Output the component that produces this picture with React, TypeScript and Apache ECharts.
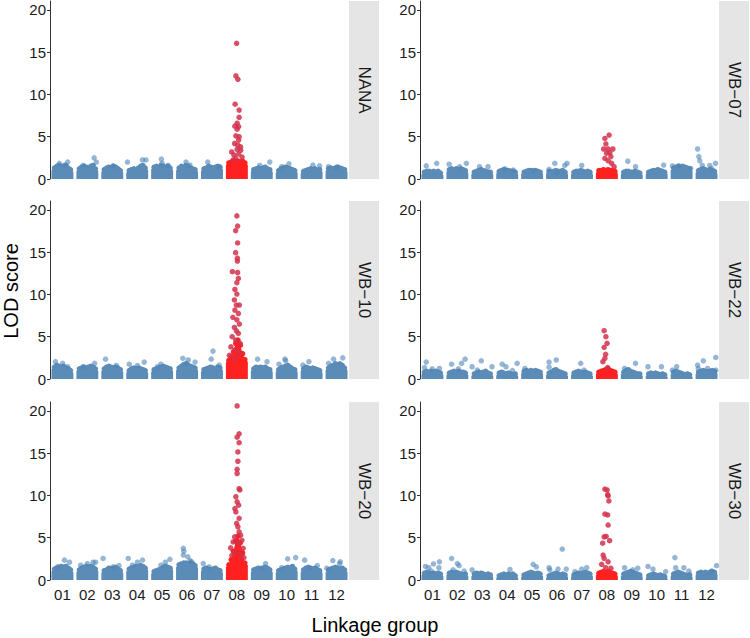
import React, { useEffect, useRef } from "react";
import * as echarts from "echarts";

const groups = ["01", "02", "03", "04", "05", "06", "07", "08", "09", "10", "11", "12"];
const panelNames = ["NANA", "WB−07", "WB−10", "WB−22", "WB−20", "WB−30"];
const yTicks = [0, 5, 10, 15, 20];
const peakGroupIndex = 7; // "08"

// Dense band top (envelope) per linkage group
const bandNANA = [
  [1.3, 1.5, 1.6, 1.4, 1.5, 1.6, 1.3, 1.1],
  [1.2, 1.4, 1.5, 1.4, 1.3, 1.5, 1.6, 1.2],
  [1.1, 1.3, 1.4, 1.3, 1.5, 1.4, 1.2, 1.0],
  [1.0, 1.1, 1.2, 1.1, 1.3, 1.5, 1.6, 1.3],
  [1.4, 1.5, 1.3, 1.6, 1.5, 1.4, 1.5, 1.3],
  [1.3, 1.5, 1.4, 1.6, 1.5, 1.3, 1.2, 1.1],
  [1.2, 1.3, 1.5, 1.4, 1.3, 1.4, 1.5, 1.4],
  [1.9, 2.0, 2.1, 2.0, 2.1, 2.0, 2.1, 1.9],
  [1.1, 1.2, 1.3, 1.2, 1.3, 1.4, 1.2, 1.1],
  [1.0, 1.2, 1.3, 1.4, 1.3, 1.2, 1.1, 1.0],
  [0.9, 1.0, 1.1, 1.2, 1.1, 1.2, 1.0, 1.1],
  [1.2, 1.3, 1.2, 1.3, 1.4, 1.3, 1.2, 1.1],
];
const bandWB07 = [
  [0.8, 0.9, 0.9, 0.8, 0.9, 0.8, 0.9, 0.7],
  [1.1, 1.2, 1.1, 1.2, 1.1, 1.2, 1.1, 1.0],
  [0.8, 0.9, 1.0, 1.1, 1.0, 0.9, 0.8, 0.8],
  [0.9, 1.0, 1.1, 1.0, 1.0, 0.9, 0.9, 0.8],
  [0.8, 0.9, 1.0, 1.0, 0.9, 1.0, 0.9, 0.8],
  [0.9, 0.8, 0.9, 1.0, 0.9, 0.9, 1.0, 0.8],
  [0.8, 0.9, 0.9, 1.0, 0.9, 0.8, 0.9, 0.8],
  [1.0, 1.0, 1.1, 1.0, 1.1, 1.0, 1.0, 0.9],
  [0.8, 0.9, 0.9, 0.8, 0.8, 0.9, 0.8, 0.7],
  [0.8, 0.9, 1.0, 1.0, 1.1, 1.0, 0.9, 0.8],
  [1.3, 1.4, 1.5, 1.4, 1.5, 1.4, 1.3, 1.2],
  [1.0, 1.1, 1.2, 1.1, 1.0, 1.1, 1.0, 0.9],
];
const bandWB10 = [
  [1.4, 1.6, 1.5, 1.4, 1.5, 1.3, 1.2, 1.0],
  [1.2, 1.3, 1.4, 1.3, 1.4, 1.5, 1.4, 1.2],
  [1.2, 1.4, 1.5, 1.4, 1.3, 1.4, 1.3, 1.1],
  [1.0, 1.2, 1.3, 1.2, 1.3, 1.2, 1.1, 1.0],
  [1.1, 1.2, 1.3, 1.4, 1.5, 1.4, 1.3, 1.2],
  [1.3, 1.5, 1.7, 1.8, 1.6, 1.5, 1.4, 1.3],
  [1.1, 1.2, 1.3, 1.4, 1.3, 1.2, 1.4, 1.3],
  [2.2, 2.6, 3.2, 4.2, 4.6, 4.0, 3.0, 2.3],
  [1.2, 1.4, 1.3, 1.4, 1.3, 1.4, 1.2, 1.1],
  [1.1, 1.3, 1.4, 1.5, 1.6, 1.4, 1.2, 1.1],
  [1.2, 1.4, 1.3, 1.2, 1.3, 1.2, 1.1, 1.0],
  [1.3, 1.5, 1.6, 1.8, 1.7, 1.8, 1.6, 1.3],
];
const bandWB22 = [
  [0.8, 0.9, 0.8, 0.9, 0.8, 0.9, 0.8, 0.7],
  [0.7, 0.8, 0.9, 0.8, 0.9, 0.8, 0.8, 0.7],
  [0.6, 0.7, 0.8, 0.7, 0.8, 0.9, 0.7, 0.6],
  [0.7, 0.8, 0.7, 0.6, 0.7, 0.6, 0.5, 0.6],
  [0.9, 1.0, 0.9, 1.0, 0.9, 1.0, 0.9, 0.8],
  [0.7, 0.8, 1.0, 1.1, 0.9, 0.8, 0.7, 0.6],
  [0.7, 0.8, 0.9, 0.8, 0.7, 0.8, 0.7, 0.6],
  [0.8, 0.9, 1.0, 1.1, 1.2, 1.0, 0.9, 0.8],
  [0.8, 1.0, 1.1, 0.9, 0.8, 0.7, 0.6, 0.6],
  [0.6, 0.7, 0.6, 0.7, 0.6, 0.5, 0.6, 0.5],
  [0.8, 0.9, 0.8, 0.7, 0.6, 0.5, 0.6, 0.5],
  [0.8, 0.9, 1.0, 0.9, 0.8, 0.9, 1.0, 0.9],
];
const bandWB20 = [
  [1.3, 1.4, 1.5, 1.6, 1.5, 1.6, 1.4, 1.2],
  [1.2, 1.4, 1.5, 1.6, 1.5, 1.6, 1.5, 1.3],
  [1.1, 1.2, 1.4, 1.3, 1.4, 1.5, 1.3, 1.1],
  [1.3, 1.4, 1.5, 1.6, 1.5, 1.7, 1.6, 1.4],
  [1.0, 1.1, 1.2, 1.3, 1.5, 1.6, 1.5, 1.4],
  [1.8, 1.9, 2.0, 2.0, 1.9, 2.0, 1.9, 1.7],
  [1.3, 1.4, 1.3, 1.2, 1.3, 1.4, 1.2, 1.1],
  [1.8, 2.4, 3.4, 4.6, 5.2, 4.4, 3.2, 2.0],
  [1.2, 1.3, 1.4, 1.3, 1.4, 1.5, 1.4, 1.2],
  [1.1, 1.2, 1.3, 1.4, 1.5, 1.4, 1.6, 1.3],
  [1.2, 1.4, 1.5, 1.4, 1.3, 1.4, 1.2, 1.1],
  [1.2, 1.3, 1.4, 1.5, 1.4, 1.3, 1.4, 1.2],
];
const bandWB30 = [
  [0.8, 0.9, 0.8, 0.7, 0.8, 0.7, 0.8, 0.7],
  [0.8, 0.9, 0.8, 0.9, 0.8, 0.7, 0.6, 0.7],
  [0.7, 0.8, 0.7, 0.8, 0.7, 0.6, 0.7, 0.6],
  [0.5, 0.6, 0.7, 0.6, 0.7, 0.6, 0.7, 0.5],
  [0.6, 0.7, 0.8, 0.9, 0.8, 0.7, 0.8, 0.7],
  [0.5, 0.6, 0.7, 0.8, 0.7, 0.6, 0.7, 0.6],
  [0.6, 0.7, 0.8, 0.7, 0.8, 0.9, 0.8, 0.7],
  [0.8, 0.9, 1.0, 0.8, 1.0, 0.9, 0.8, 0.7],
  [0.7, 0.8, 0.9, 1.0, 0.9, 0.8, 0.7, 0.6],
  [0.5, 0.6, 0.7, 0.6, 0.5, 0.6, 0.5, 0.4],
  [0.7, 0.8, 0.9, 0.8, 0.7, 0.6, 0.5, 0.6],
  [0.8, 0.9, 0.8, 0.9, 0.8, 0.9, 1.0, 0.9],
];

// Individual markers above the dense band: [position, LOD]
const pointsNANA = [
  [0.88, 1.85], [1.21, 2.0], [1.08, 1.65], [2.27, 2.5], [2.36, 2.0], [1.83, 1.6],
  [3.03, 1.55], [3.61, 2.0], [4.21, 2.25], [4.35, 2.25], [4.97, 2.35], [5.0, 1.85],
  [5.24, 1.6], [5.96, 2.0], [6.12, 1.65], [6.83, 2.0], [7.29, 1.45], [9.32, 2.0],
  [8.92, 1.6], [10.09, 1.8], [9.8, 1.45], [11.05, 1.65], [11.32, 1.55], [11.68, 1.45],
  [12.01, 1.4],
];
const peakNANA = [
  [7.99, 16.05], [7.96, 12.2], [8.04, 11.8], [7.93, 8.85], [8.09, 8.15], [8.09, 7.3],
  [8.01, 6.6], [7.92, 6.25], [8.07, 6.2], [8.01, 5.9], [7.96, 5.1], [8.09, 5.0],
  [8.07, 4.6], [7.91, 4.2], [8.04, 4.0], [8.15, 3.8], [8.01, 3.5], [8.15, 3.4],
  [7.79, 3.2], [7.88, 2.85], [8.07, 2.95], [8.21, 2.6], [7.95, 2.45], [7.85, 2.25],
];
const pointsWB07 = [
  [0.75, 1.55], [1.17, 1.85], [1.67, 1.75], [2.09, 1.45], [2.36, 1.85], [2.89, 1.45],
  [3.23, 1.45], [3.91, 1.2], [4.24, 1.05], [5.04, 1.0], [5.68, 1.15], [5.91, 1.85],
  [6.31, 1.6], [6.4, 1.85], [6.0, 0.75], [6.99, 1.6], [8.84, 2.1], [9.15, 1.45],
  [10.28, 1.65], [10.63, 1.55], [10.9, 1.55], [11.36, 1.25], [11.64, 3.55], [11.69, 2.65],
  [11.73, 2.15], [11.83, 1.6], [12.13, 1.6], [12.36, 1.85], [12.2, 1.25],
];
const peakWB07 = [
  [8.09, 5.2], [7.92, 4.8], [7.96, 4.15], [7.87, 3.55], [8.05, 3.55], [8.24, 3.55],
  [8.12, 3.1], [7.99, 3.05], [7.92, 2.45], [8.16, 2.65], [8.05, 2.15], [8.19, 1.85],
  [8.29, 1.45],
];
const pointsWB10 = [
  [0.72, 2.05], [1.01, 1.85], [1.21, 1.45], [2.29, 1.85], [1.83, 1.45], [2.73, 2.35],
  [3.16, 1.6], [3.68, 1.75], [4.28, 2.0], [4.01, 1.6], [4.95, 1.75], [4.81, 1.45],
  [5.83, 2.45], [6.05, 2.25], [5.99, 1.85], [6.32, 2.0], [7.04, 3.3], [6.97, 2.35],
  [7.29, 1.65], [8.83, 2.35], [9.21, 2.05], [9.93, 2.35], [9.96, 2.15], [9.69, 1.75],
  [10.89, 2.05], [10.65, 1.65], [11.88, 2.35], [12.25, 2.5], [11.68, 1.85],
];
const peakWB10 = [
  [8.0, 19.3], [8.03, 18.1], [7.95, 17.55], [8.03, 16.1], [7.95, 14.95], [8.02, 14.3],
  [8.02, 13.95], [7.82, 12.7], [8.03, 12.6], [8.06, 11.9], [8.0, 11.4], [7.92, 10.6],
  [8.0, 10.05], [7.9, 9.35], [7.98, 8.75], [8.1, 8.75], [7.92, 8.15], [8.06, 7.75],
  [7.84, 7.3], [8.0, 7.0], [8.1, 6.5], [7.9, 6.1], [7.98, 5.7], [8.06, 5.4],
  [7.81, 5.0], [7.95, 4.6], [8.13, 4.2], [7.76, 3.8], [7.92, 3.45], [8.1, 3.1],
  [7.7, 2.8], [7.89, 2.4],
];
const pointsWB22 = [
  [0.75, 2.0], [0.68, 1.35], [0.99, 1.2], [1.28, 1.25], [1.77, 1.75], [2.17, 1.85],
  [2.31, 2.35], [2.04, 1.2], [2.96, 2.15], [2.8, 1.05], [3.39, 1.45], [2.59, 1.45],
  [3.8, 1.75], [3.95, 1.45], [4.4, 1.85], [4.21, 1.0], [4.71, 1.25], [5.68, 2.0],
  [5.97, 2.25], [5.68, 1.4], [6.95, 1.85], [7.08, 1.05], [8.71, 1.25], [9.15, 1.85],
  [9.65, 1.45], [10.19, 1.45], [10.8, 1.45], [10.63, 1.05], [11.64, 1.65], [11.87, 2.15],
  [12.04, 1.25], [12.37, 2.55], [12.37, 1.05], [11.67, 1.25],
];
const peakWB22 = [
  [7.89, 5.72], [7.96, 5.0], [8.01, 4.22], [7.89, 3.75], [7.95, 2.92], [7.92, 2.45],
  [7.84, 2.05], [8.03, 1.35],
];
const pointsWB20 = [
  [1.08, 2.35], [1.28, 2.1], [0.81, 1.55], [1.73, 1.75], [2.0, 1.95], [2.23, 2.1],
  [2.33, 2.1], [2.63, 2.55], [3.03, 1.55], [3.27, 1.7], [3.64, 2.55], [4.01, 2.1],
  [4.21, 2.35], [3.81, 1.75], [4.95, 1.75], [5.13, 2.1], [5.31, 2.45], [5.85, 3.75],
  [5.87, 3.4], [5.85, 2.95], [6.03, 2.75], [6.12, 2.3], [6.19, 2.15], [6.65, 1.95],
  [6.89, 1.55], [9.15, 1.95], [8.99, 1.4], [10.04, 2.5], [10.36, 2.65], [9.8, 1.45],
  [10.72, 2.35], [11.23, 1.7], [10.92, 1.4], [11.85, 2.3], [12.15, 2.15], [12.12, 1.95],
  [11.61, 1.4],
];
const peakWB20 = [
  [8.01, 20.6], [8.09, 17.3], [8.01, 16.9], [8.09, 16.25], [8.04, 15.15], [8.04, 14.05],
  [8.01, 13.1], [8.01, 12.6], [8.09, 10.8], [8.12, 10.65], [7.96, 9.85], [8.01, 9.25],
  [8.07, 8.85], [7.92, 8.45], [7.96, 8.05], [8.09, 7.3], [7.99, 6.7], [8.04, 6.3],
  [8.09, 5.7], [8.15, 5.3], [7.91, 5.1], [8.2, 4.7], [7.85, 4.5], [8.04, 4.35],
  [7.75, 3.8], [8.25, 3.75], [7.93, 3.35], [8.15, 3.05], [7.8, 2.9], [8.28, 2.65],
];
const pointsWB30 = [
  [0.72, 1.6], [0.85, 1.45], [1.04, 1.9], [1.28, 2.15], [0.95, 1.05], [1.26, 1.45],
  [1.77, 2.55], [2.0, 1.95], [2.07, 1.7], [1.83, 1.2], [2.27, 1.05], [2.59, 1.2],
  [4.11, 1.25], [5.04, 1.85], [5.17, 1.55], [5.68, 1.45], [5.71, 1.2], [6.04, 1.3],
  [6.21, 3.65], [6.37, 1.3], [6.72, 1.0], [6.99, 1.3], [7.19, 1.45], [8.71, 1.45],
  [9.04, 1.2], [9.24, 1.4], [9.65, 1.6], [9.85, 1.3], [10.36, 1.0], [10.73, 2.65],
  [10.76, 1.45], [11.09, 1.45], [11.29, 1.05], [12.4, 1.7], [12.2, 1.05],
];
const peakWB30 = [
  [7.92, 10.75], [8.01, 10.65], [8.03, 10.1], [8.05, 9.95], [8.08, 9.35], [7.92, 7.8],
  [8.03, 7.7], [8.05, 6.5], [7.89, 5.1], [7.97, 5.15], [8.11, 4.65], [7.83, 4.35],
  [7.85, 2.95], [7.89, 2.55], [8.05, 2.15], [7.79, 1.85], [7.95, 1.45], [8.16, 1.4],
];

const bands = [bandNANA, bandWB07, bandWB10, bandWB22, bandWB20, bandWB30];
const pointSets = [pointsNANA, pointsWB07, pointsWB10, pointsWB22, pointsWB20, pointsWB30];
const peakSets = [peakNANA, peakWB07, peakWB10, peakWB22, peakWB20, peakWB30];

const FONT = "'Liberation Sans', Arial, Helvetica, sans-serif";
const GRID_LEFTS = [50, 420];
const GRID_TOPS = [1, 201, 402];
const GW = 299;
const GH = 178;
const STRIP_W = 30;
const YMAX = 21.06;
const HALF = 0.44;
const INNER = 0.32;

const BLUE = "#5b8bb7";
const BLUE_PT = "#4f86b8";
const RED = "#ff2020";
const RED_PT = "#d3304a";

function buildOption() {
  const grid: any[] = [];
  const xAxis: any[] = [];
  const yAxis: any[] = [];
  const series: any[] = [];
  const graphic: any[] = [];

  panelNames.forEach((name, k) => {
    const col = k % 2;
    const row = Math.floor(k / 2);
    const left = GRID_LEFTS[col];
    const top = GRID_TOPS[row];
    grid.push({ left, top, width: GW, height: GH, containLabel: false });
    xAxis.push({
      type: "value", gridIndex: k, position: "bottom", min: 0.5, max: 12.5, show: false,
    });
    xAxis.push({
      type: "category", gridIndex: k, position: "bottom", data: groups, boundaryGap: true,
      show: row === 2,
      axisLine: { show: false, onZero: false }, axisTick: { show: false }, splitLine: { show: false },
      axisLabel: { show: row === 2, color: "#1a1a1a", fontSize: 15, fontFamily: FONT, margin: 7, interval: 0 },
    });
    yAxis.push({
      type: "value", gridIndex: k, position: "left", min: 0, max: YMAX,
      axisLine: { show: true, lineStyle: { color: "#333333", width: 1 } },
      axisTick: { show: true, length: 3, customValues: yTicks, lineStyle: { color: "#333333" } },
      axisLabel: { color: "#1a1a1a", fontSize: 15, fontFamily: FONT, margin: 4, customValues: yTicks },
      splitLine: { show: false },
    });

    bands[k].forEach((vals, gi) => {
      const g = gi + 1;
      const n = vals.length;
      const isPeak = gi === peakGroupIndex;
      const color = isPeak ? RED : BLUE;
      const data: any[] = [];
      data.push({ value: [g - HALF, vals[0] - 0.25], symbol: "none" });
      vals.forEach((v, j) => data.push([g - INNER + (j * 2 * INNER) / (n - 1), v]));
      data.push({ value: [g + HALF, vals[n - 1] - 0.25], symbol: "none" });
      series.push({
        type: "line", xAxisIndex: 2 * k, yAxisIndex: k, data,
        symbol: "circle", symbolSize: 5.5, showSymbol: true, showAllSymbol: true,
        lineStyle: { width: 0, opacity: 0 },
        itemStyle: { color, opacity: 1 },
        areaStyle: { color, opacity: 1 },
        silent: true, z: 2,
      });
    });

    series.push({
      type: "scatter", xAxisIndex: 2 * k, yAxisIndex: k, data: pointSets[k],
      symbolSize: 5.5, itemStyle: { color: BLUE_PT, opacity: 0.6 }, silent: true, z: 3,
    });
    series.push({
      type: "scatter", xAxisIndex: 2 * k, yAxisIndex: k, data: peakSets[k],
      symbolSize: 5.5, itemStyle: { color: RED_PT, opacity: 0.85 }, silent: true, z: 4,
    });

    const sx = left + GW;
    graphic.push({
      type: "rect", shape: { x: sx, y: top, width: STRIP_W, height: GH },
      style: { fill: "#e5e5e5" }, silent: true,
    });
    graphic.push({
      type: "text", x: sx + STRIP_W / 2, y: top + GH / 2, rotation: -Math.PI / 2,
      style: {
        text: name, fill: "#1a1a1a", fontSize: 17, fontFamily: FONT,
        textAlign: "center", textVerticalAlign: "middle",
      },
      silent: true,
    });
  });

  graphic.push({
    type: "text", x: 11, y: 291, rotation: Math.PI / 2,
    style: {
      text: "LOD score", fill: "#000000", fontSize: 20, fontFamily: FONT,
      textAlign: "center", textVerticalAlign: "middle",
    },
    silent: true,
  });
  graphic.push({
    type: "text", x: 375, y: 625,
    style: {
      text: "Linkage group", fill: "#000000", fontSize: 20, fontFamily: FONT,
      textAlign: "center", textVerticalAlign: "middle",
    },
    silent: true,
  });

  return {
    animation: false,
    backgroundColor: "#ffffff",
    grid, xAxis, yAxis, series, graphic,
  };
}

export default function App() {
  const ref = useRef<HTMLDivElement>(null);
  useEffect(() => {
    if (!ref.current) return;
    const chart = echarts.init(ref.current, undefined, { renderer: "svg" });
    chart.setOption(buildOption() as any);
    return () => chart.dispose();
  }, []);
  return (
    <div
      ref={ref}
      style={{ position: "absolute", left: 0, top: 0, width: 750, height: 638 }}
    />
  );
}
